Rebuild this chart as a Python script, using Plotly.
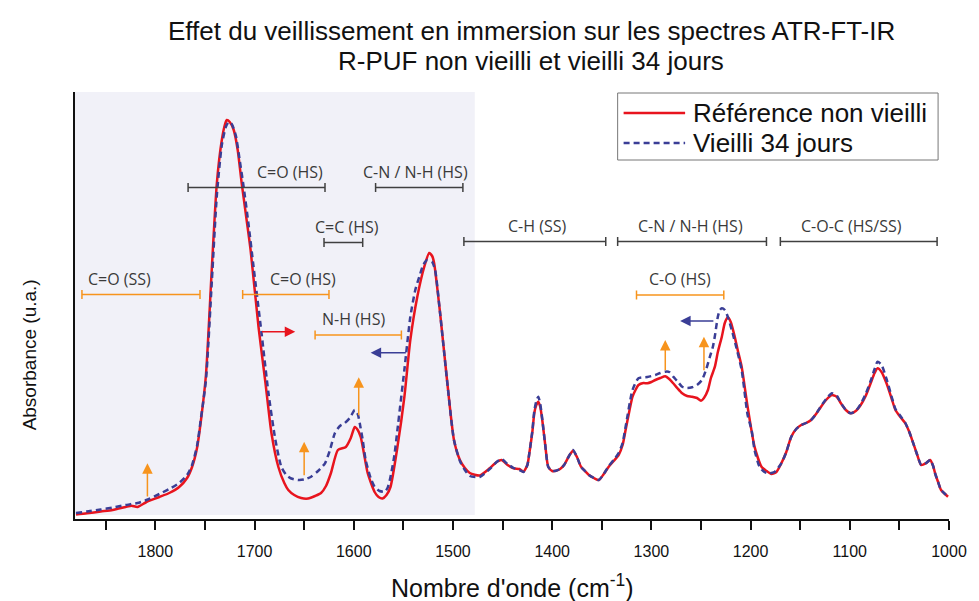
import plotly.graph_objects as go

# ---------------- data ----------------
wn_ref = [1880, 1869, 1855, 1843, 1830, 1824, 1818, 1809, 1796, 1786, 1776, 1768, 1763, 1758, 1754,
          1749, 1743, 1738, 1733, 1730, 1728, 1725, 1721, 1717, 1713, 1708, 1704, 1696, 1689, 1683,
          1676, 1670, 1666, 1660, 1653, 1646, 1639, 1633, 1628, 1623, 1616, 1608, 1603, 1599, 1596,
          1593, 1590, 1586, 1579, 1575, 1571, 1567, 1563, 1556, 1549, 1543, 1536, 1529, 1524, 1521,
          1519, 1513, 1506, 1499, 1493, 1488, 1483, 1473, 1463, 1456, 1451, 1445, 1439, 1433, 1429,
          1425, 1423, 1420, 1418, 1416, 1414, 1412, 1410, 1407, 1404, 1400, 1396, 1392, 1388, 1383,
          1379, 1375, 1371, 1367, 1363, 1358, 1353, 1348, 1343, 1338, 1333, 1329, 1326, 1322, 1319,
          1316, 1313, 1308, 1304, 1300, 1296, 1291, 1286, 1282, 1278, 1274, 1269, 1264, 1259, 1254,
          1250, 1247, 1243, 1240, 1236, 1233, 1229, 1226, 1223, 1220, 1216, 1213, 1209, 1203, 1196,
          1189, 1184, 1179, 1174, 1169, 1164, 1159, 1154, 1149, 1144, 1139, 1134, 1129, 1123, 1118,
          1113, 1109, 1104, 1099, 1094, 1089, 1084, 1079, 1075, 1072, 1068, 1063, 1058, 1054, 1049,
          1044, 1040, 1036, 1032, 1028, 1023, 1019, 1016, 1014, 1011, 1008, 1004, 1001]
abs_ref = [0.045, 0.057, 0.075, 0.09, 0.12, 0.133, 0.12, 0.17, 0.22, 0.26, 0.32, 0.41, 0.52, 0.71, 0.99,
           1.44, 2.52, 3.36, 3.79, 3.94, 3.99, 3.97, 3.89, 3.69, 3.36, 2.99, 2.69, 1.92, 1.36, 0.86,
           0.52, 0.36, 0.29, 0.24, 0.21, 0.205, 0.23, 0.26, 0.33, 0.46, 0.69, 0.72, 0.81, 0.92, 0.89,
           0.82, 0.67, 0.46, 0.27, 0.22, 0.205, 0.24, 0.32, 0.72, 1.22, 1.79, 2.22, 2.52, 2.66, 2.63,
           2.56, 2.06, 1.39, 0.79, 0.59, 0.51, 0.46, 0.435, 0.507, 0.57, 0.59, 0.54, 0.507, 0.50, 0.473,
           0.54, 0.66, 0.87, 1.06, 1.14, 1.173, 1.12, 0.99, 0.74, 0.523, 0.48, 0.483, 0.50, 0.54, 0.63,
           0.683, 0.62, 0.523, 0.48, 0.44, 0.41, 0.39, 0.45, 0.523, 0.58, 0.64, 0.74, 0.89, 1.09, 1.223,
           1.29, 1.34, 1.36, 1.357, 1.37, 1.39, 1.41, 1.427, 1.40, 1.357, 1.31, 1.257, 1.23, 1.223, 1.21,
           1.183, 1.21, 1.29, 1.41, 1.523, 1.67, 1.823, 1.96, 2.017, 1.97, 1.823, 1.69, 1.523, 1.123, 0.723,
           0.523, 0.48, 0.45, 0.47, 0.557, 0.67, 0.823, 0.90, 0.94, 0.96, 0.99, 1.05, 1.123, 1.20, 1.24,
           1.22, 1.157, 1.09, 1.057, 1.08, 1.14, 1.23, 1.357, 1.46, 1.507, 1.47, 1.357, 1.21, 1.09, 1.02,
           0.957, 0.87, 0.757, 0.64, 0.54, 0.56, 0.59, 0.53, 0.457, 0.37, 0.29, 0.25, 0.223]

wn_aged = [1880, 1869, 1855, 1843, 1830, 1818, 1809, 1796, 1786, 1776, 1768, 1763, 1758, 1754, 1749,
           1743, 1738, 1733, 1729, 1726, 1723, 1719, 1715, 1711, 1706, 1701, 1693, 1686, 1679, 1673,
           1668, 1663, 1656, 1650, 1643, 1636, 1629, 1624, 1619, 1614, 1609, 1604, 1599, 1596, 1594,
           1591, 1588, 1583, 1579, 1574, 1569, 1566, 1563, 1559, 1556, 1549, 1543, 1538, 1534, 1530,
           1526, 1521, 1518, 1513, 1506, 1499, 1493, 1488, 1483, 1473, 1463, 1456, 1451, 1445, 1439,
           1433, 1429, 1425, 1423, 1420, 1418, 1416, 1414, 1412, 1410, 1407, 1404, 1400, 1396, 1392,
           1388, 1383, 1379, 1375, 1371, 1367, 1363, 1358, 1353, 1348, 1343, 1338, 1333, 1329, 1326,
           1319, 1313, 1304, 1296, 1291, 1286, 1282, 1278, 1274, 1269, 1264, 1259, 1254, 1249, 1245,
           1241, 1238, 1236, 1233, 1231, 1229, 1226, 1223, 1219, 1215, 1209, 1203, 1199, 1196, 1191,
           1186, 1181, 1176, 1169, 1164, 1159, 1154, 1149, 1144, 1139, 1134, 1129, 1123, 1118, 1113,
           1109, 1104, 1099, 1094, 1089, 1084, 1079, 1075, 1072, 1068, 1063, 1058, 1054, 1049, 1044,
           1040, 1036, 1032, 1028, 1023, 1019, 1016, 1014, 1011, 1008, 1004, 1001]
abs_aged = [0.06, 0.075, 0.095, 0.115, 0.14, 0.16, 0.19, 0.25, 0.30, 0.36, 0.44, 0.54, 0.73, 1.01, 1.39,
            2.39, 3.24, 3.74, 3.92, 3.97, 3.95, 3.84, 3.59, 3.32, 2.94, 2.52, 1.86, 1.26, 0.79, 0.52,
            0.44, 0.405, 0.39, 0.395, 0.423, 0.48, 0.557, 0.69, 0.86, 0.93, 0.96, 1.01, 1.09, 1.05, 0.96,
            0.79, 0.59, 0.41, 0.323, 0.28, 0.273, 0.31, 0.42, 0.64, 0.89, 1.49, 2.02, 2.29, 2.42, 2.54,
            2.59, 2.57, 2.49, 2.06, 1.39, 0.79, 0.58, 0.49, 0.43, 0.42, 0.50, 0.57, 0.60, 0.55, 0.51,
            0.49, 0.47, 0.54, 0.66, 0.88, 1.08, 1.18, 1.223, 1.15, 1.00, 0.74, 0.523, 0.48, 0.483, 0.50,
            0.54, 0.63, 0.69, 0.62, 0.523, 0.48, 0.44, 0.41, 0.39, 0.45, 0.53, 0.59, 0.66, 0.76, 0.92,
            1.29, 1.407, 1.42, 1.44, 1.46, 1.473, 1.47, 1.423, 1.38, 1.323, 1.31, 1.317, 1.34, 1.39, 1.49,
            1.623, 1.723, 1.83, 2.023, 2.09, 2.107, 2.09, 2.023, 1.89, 1.74, 1.49, 1.04, 0.89, 0.69, 0.523,
            0.47, 0.457, 0.47, 0.557, 0.67, 0.823, 0.90, 0.94, 0.96, 0.99, 1.05, 1.13, 1.21, 1.257, 1.23,
            1.16, 1.09, 1.057, 1.08, 1.15, 1.25, 1.38, 1.50, 1.573, 1.54, 1.40, 1.23, 1.10, 1.03, 0.96,
            0.87, 0.757, 0.64, 0.54, 0.56, 0.59, 0.53, 0.457, 0.37, 0.29, 0.25, 0.223]

series_names = ["Référence non vieilli", "Vieilli 34 jours"]
tick_vals = [1800, 1700, 1600, 1500, 1400, 1300, 1200, 1100, 1000]
tick_text = ["1800", "1700", "1600", "1500", "1400", "1300", "1200", "1100", "1000"]
minor_tick_vals = [1850, 1750, 1650, 1550, 1450, 1350, 1250, 1150, 1050]

title_lines = ["Effet du veillissement en immersion sur les spectres ATR-FT-IR",
               "R-PUF non vieilli et vieilli 34 jours"]
x_title = "Nombre d'onde (cm<sup>-1</sup>)"
y_title = "Absorbance (u.a.)"

# band assignments
band_labels = ["C=O (HS)", "C-N / N-H (HS)", "C=C (HS)", "C=O (SS)", "C=O (HS)",
               "C-H (SS)", "C-N / N-H (HS)", "C-O-C (HS/SS)", "C-O (HS)", "N-H (HS)"]
band_start = [1767, 1578, 1630, 1874, 1712, 1489, 1334, 1170, 1315, 1639]
band_end = [1629, 1490, 1591, 1755, 1625, 1346, 1184, 1012, 1227, 1552]
band_label_wn = [1664, 1538, 1607, 1836.5, 1651, 1415, 1261, 1098.5, 1271, 1600]
band_level = [3.315, 3.315, 2.765, 2.245, 2.245, 2.775, 2.775, 2.775, 2.24, 1.84]
band_group = ["hs", "hs", "hs", "mod", "mod", "hs", "hs", "hs", "mod", "mod"]

# peak shift arrows (horizontal)
shift_start = [1694, 1546, 1236]
shift_end = [1659, 1583, 1271]
shift_level = [1.873, 1.663, 1.98]
shift_group = ["ref", "aged", "aged"]

# intensity increase arrows (vertical)
incr_wn = [1808, 1650, 1595, 1286, 1247]
incr_from = [0.21, 0.423, 1.023, 1.473, 1.473]
incr_to = [0.557, 0.773, 1.417, 1.79, 1.823]

shade_range = [1881, 1478]

# ---------------- styles ----------------
RED = "#e8141e"
BLUE = "#3a3e96"
ORANGE = "#f7941d"
GREY = "#404040"
group_color = {"hs": GREY, "mod": ORANGE, "ref": RED, "aged": BLUE}
LABEL_FONT = "Open Sans, Noto Sans, sans-serif"
MAIN_FONT = "Liberation Sans, Arial, sans-serif"
NARROW_FONT = "Liberation Sans Narrow, Arial Narrow, Liberation Sans, Arial, sans-serif"
DASH = "6px,4px"

W, H = 979, 601
ML, MR, MT, MB = 75, 23, 92, 82
Y_MAX = 4.27


def px_to_paper_x(px):
    return (px - ML) / (W - ML - MR)


def px_to_paper_y(py):
    return (H - MB - py) / (H - MT - MB)


fig = go.Figure()

fig.add_trace(go.Scatter(x=wn_ref, y=abs_ref, mode="lines", name=series_names[0], showlegend=False,
                         line=dict(color=RED, width=2.5, shape="spline", smoothing=0.6)))
fig.add_trace(go.Scatter(x=wn_aged, y=abs_aged, mode="lines", name=series_names[1], showlegend=False,
                         line=dict(color=BLUE, width=2.5, dash=DASH, shape="spline", smoothing=0.6)))

shapes = []
shapes.append(dict(type="rect", xref="x", yref="y", x0=shade_range[0], x1=shade_range[1],
                   y0=0.04, y1=Y_MAX, fillcolor="#f1f1f8", line=dict(width=0), layer="below"))

annotations = []
cap = 0.045
for lab, s, e, lx, lvl, g in zip(band_labels, band_start, band_end, band_label_wn, band_level, band_group):
    c = group_color[g]
    shapes.append(dict(type="line", xref="x", yref="y", x0=s, x1=e, y0=lvl, y1=lvl,
                       line=dict(color=c, width=1.5)))
    for xx in (s, e):
        shapes.append(dict(type="line", xref="x", yref="y", x0=xx, x1=xx, y0=lvl - cap, y1=lvl + cap,
                           line=dict(color=c, width=1.5)))
    annotations.append(dict(x=lx, y=lvl + 0.03, xref="x", yref="y", text=lab,
                            showarrow=False, yanchor="bottom",
                            font=dict(family=LABEL_FONT, size=16, color="#3a3a3a")))

for s, e, lvl, g in zip(shift_start, shift_end, shift_level, shift_group):
    annotations.append(dict(x=e, y=lvl, ax=s, ay=lvl, xref="x", yref="y", axref="x", ayref="y",
                            text="", showarrow=True, arrowhead=2, arrowsize=1.4, arrowwidth=1.5,
                            arrowcolor=group_color[g]))

for xx, y0, y1 in zip(incr_wn, incr_from, incr_to):
    annotations.append(dict(x=xx, y=y1, ax=xx, ay=y0, xref="x", yref="y", axref="x", ayref="y",
                            text="", showarrow=True, arrowhead=2, arrowsize=1.4, arrowwidth=1.5,
                            arrowcolor=ORANGE))

# legend (drawn box, samples and labels)
shapes.append(dict(type="rect", xref="paper", yref="paper",
                   x0=px_to_paper_x(622), x1=px_to_paper_x(945),
                   y0=px_to_paper_y(160), y1=px_to_paper_y(93),
                   fillcolor="white", line=dict(color="#777777", width=1)))
for i, (nm, col, dsh) in enumerate(zip(series_names, [RED, BLUE], ["solid", DASH])):
    py = 113 + 30 * i
    shapes.append(dict(type="line", xref="paper", yref="paper",
                       x0=px_to_paper_x(628), x1=px_to_paper_x(690),
                       y0=px_to_paper_y(py), y1=px_to_paper_y(py),
                       line=dict(color=col, width=2.5, dash=dsh)))
    annotations.append(dict(x=px_to_paper_x(696), y=px_to_paper_y(py), xref="paper", yref="paper",
                            text=nm, showarrow=False, xanchor="left", yanchor="middle",
                            font=dict(family=MAIN_FONT, size=26, color="#111111")))

# titles
for line_text, py in zip(title_lines, [31, 61]):
    annotations.append(dict(x=px_to_paper_x(535), y=px_to_paper_y(py), xref="paper", yref="paper",
                            text=line_text, showarrow=False, xanchor="center", yanchor="middle",
                            font=dict(family=MAIN_FONT, size=26, color="#111111")))
annotations.append(dict(x=px_to_paper_x(516), y=px_to_paper_y(586), xref="paper", yref="paper",
                        text=x_title, showarrow=False, xanchor="center", yanchor="middle",
                        font=dict(family=MAIN_FONT, size=25, color="#111111")))
annotations.append(dict(x=px_to_paper_x(29), y=px_to_paper_y(355), xref="paper", yref="paper",
                        text=y_title, showarrow=False, textangle=-90,
                        xanchor="center", yanchor="middle",
                        font=dict(family=MAIN_FONT, size=19, color="#111111")))

fig.update_layout(
    width=W, height=H,
    margin=dict(l=ML, r=MR, t=MT, b=MB),
    paper_bgcolor="white", plot_bgcolor="white",
    shapes=shapes, annotations=annotations,
    showlegend=False,
    xaxis=dict(range=[1881, 1000], showgrid=False, zeroline=False,
               showline=True, linecolor="#111111", linewidth=2,
               tickmode="array", tickvals=tick_vals, ticktext=tick_text,
               ticks="outside", ticklen=9, tickwidth=1.5, tickcolor="#111111",
               minor=dict(tickmode="array", tickvals=minor_tick_vals,
                          ticks="outside", ticklen=9, tickwidth=1.5, tickcolor="#111111"),
               ticklabelstandoff=8,
               tickfont=dict(family=NARROW_FONT, size=16, color="#111111")),
    yaxis=dict(range=[0, Y_MAX], showgrid=False, zeroline=False,
               showline=True, linecolor="#111111", linewidth=2,
               showticklabels=False, ticks=""),
)

fig.write_html("out.html", config={"displayModeBar": False},
               post_script="document.body.style.margin='0px';document.body.style.overflow='hidden';")
